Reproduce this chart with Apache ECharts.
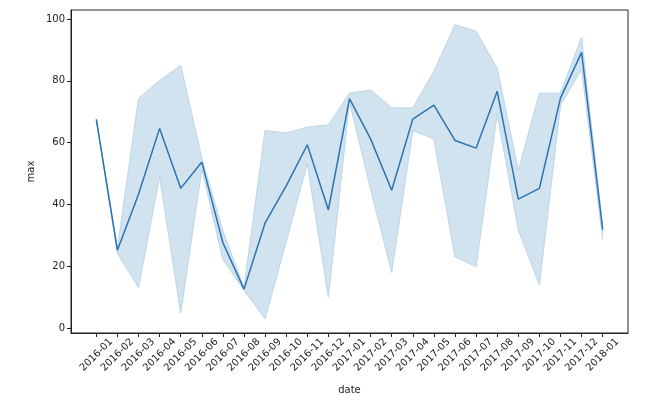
<!DOCTYPE html>
<html>
<head>
<meta charset="utf-8">
<script src="https://cdn.jsdelivr.net/npm/echarts@6/dist/echarts.min.js"></script>
<style>
  html, body { margin: 0; padding: 0; background: #fff; }
  #chart { width: 659px; height: 400px; }
</style>
</head>
<body>
<div id="chart"></div>
<script>
// months on the x axis
var dates = ['2016-01', '2016-02', '2016-03', '2016-04', '2016-05', '2016-06', '2016-07',
  '2016-08', '2016-09', '2016-10', '2016-11', '2016-12', '2017-01', '2017-02', '2017-03',
  '2017-04', '2017-05', '2017-06', '2017-07', '2017-08', '2017-09', '2017-10', '2017-11',
  '2017-12', '2018-01'];
// mean of "max" per month
var meanMax = [67.5, 25.2, 43.3, 64.6, 45.2, 53.7, 27.6, 12.6, 34.0, 46.0, 59.3, 38.2, 74.2,
  61.2, 44.6, 67.6, 72.1, 60.7, 58.2, 76.6, 41.7, 45.2, 74.4, 89.2, 31.8];
// confidence band
var ciLow = [67.5, 24.2, 13.1, 49.1, 4.9, 51.5, 22.2, 12.2, 3.0, 28.0, 53.2, 10.0, 73.2,
  45.0, 18.0, 63.9, 61.2, 23.0, 19.9, 69.2, 31.8, 14.0, 72.1, 83.7, 28.8];
var ciHigh = [67.5, 25.6, 74.3, 80.1, 85.0, 55.0, 31.4, 13.0, 63.9, 63.1, 65.0, 65.7, 76.0,
  77.0, 71.2, 71.2, 83.1, 98.1, 96.0, 84.0, 51.0, 76.0, 76.0, 94.0, 33.0];
var yTicks = [0, 20, 40, 60, 80, 100];

var xIdx = dates.map(function (d, i) { return i; });
var font = 'DejaVu Sans';

var chart = echarts.init(document.getElementById('chart'));
chart.setOption({
  animation: false,
  backgroundColor: '#fff',
  grid: {
    left: 71, right: 31, top: 10, bottom: 64,
    show: true, borderColor: '#222', borderWidth: 1, backgroundColor: 'transparent'
  },
  xAxis: {
    type: 'value',
    min: -1.2,
    max: 25.2,
    name: 'date',
    nameLocation: 'middle',
    nameGap: 52,
    nameTextStyle: { color: '#222', fontFamily: font, fontSize: 10 },
    splitLine: { show: false },
    axisLine: { show: true, onZero: false, lineStyle: { color: '#222', width: 1 } },
    axisTick: { show: true, customValues: xIdx, length: 4, lineStyle: { color: '#222' } },
    axisLabel: {
      customValues: xIdx,
      formatter: function (v) { return dates[v]; },
      rotate: 45,
      align: 'center',
      verticalAlign: 'middle',
      margin: 22,
      color: '#222',
      fontFamily: font,
      fontSize: 10
    }
  },
  yAxis: {
    type: 'value',
    min: -1.6,
    max: 102.9,
    name: 'max',
    nameLocation: 'middle',
    nameGap: 35,
    nameMoveOverlap: false,
    nameTextStyle: { color: '#222', fontFamily: font, fontSize: 10 },
    splitLine: { show: false },
    axisLine: { show: true, onZero: false, lineStyle: { color: '#222', width: 1 } },
    axisTick: { show: true, customValues: yTicks, length: 4, lineStyle: { color: '#222' } },
    axisLabel: { customValues: yTicks, margin: 6, color: '#222', fontFamily: font, fontSize: 10 }
  },
  series: [
    {
      type: 'custom',
      silent: true,
      encode: { x: 0, y: [1, 2] },
      data: xIdx.slice(0, -1).map(function (i) { return [i, ciLow[i], ciHigh[i]]; }),
      renderItem: function (params, api) {
        var i = api.value(0);
        var pts = [
          api.coord([i, ciLow[i]]),
          api.coord([i + 1, ciLow[i + 1]]),
          api.coord([i + 1, ciHigh[i + 1]]),
          api.coord([i, ciHigh[i]])
        ];
        return {
          type: 'polygon',
          shape: { points: pts },
          style: { fill: '#d2e3f0', stroke: '#d2e3f0', lineWidth: 0.5 }
        };
      },
      z: 1
    },
    {
      type: 'line',
      silent: true,
      showSymbol: false,
      data: xIdx.map(function (i) { return [i, ciLow[i]]; }),
      lineStyle: { color: '#bed6ea', width: 1 },
      z: 2
    },
    {
      type: 'line',
      silent: true,
      showSymbol: false,
      data: xIdx.map(function (i) { return [i, ciHigh[i]]; }),
      lineStyle: { color: '#bed6ea', width: 1 },
      z: 2
    },
    {
      name: 'max',
      type: 'line',
      showSymbol: false,
      data: xIdx.map(function (i) { return [i, meanMax[i]]; }),
      lineStyle: { color: '#2a73b2', width: 1.5 },
      z: 3
    }
  ]
});
</script>
</body>
</html>
